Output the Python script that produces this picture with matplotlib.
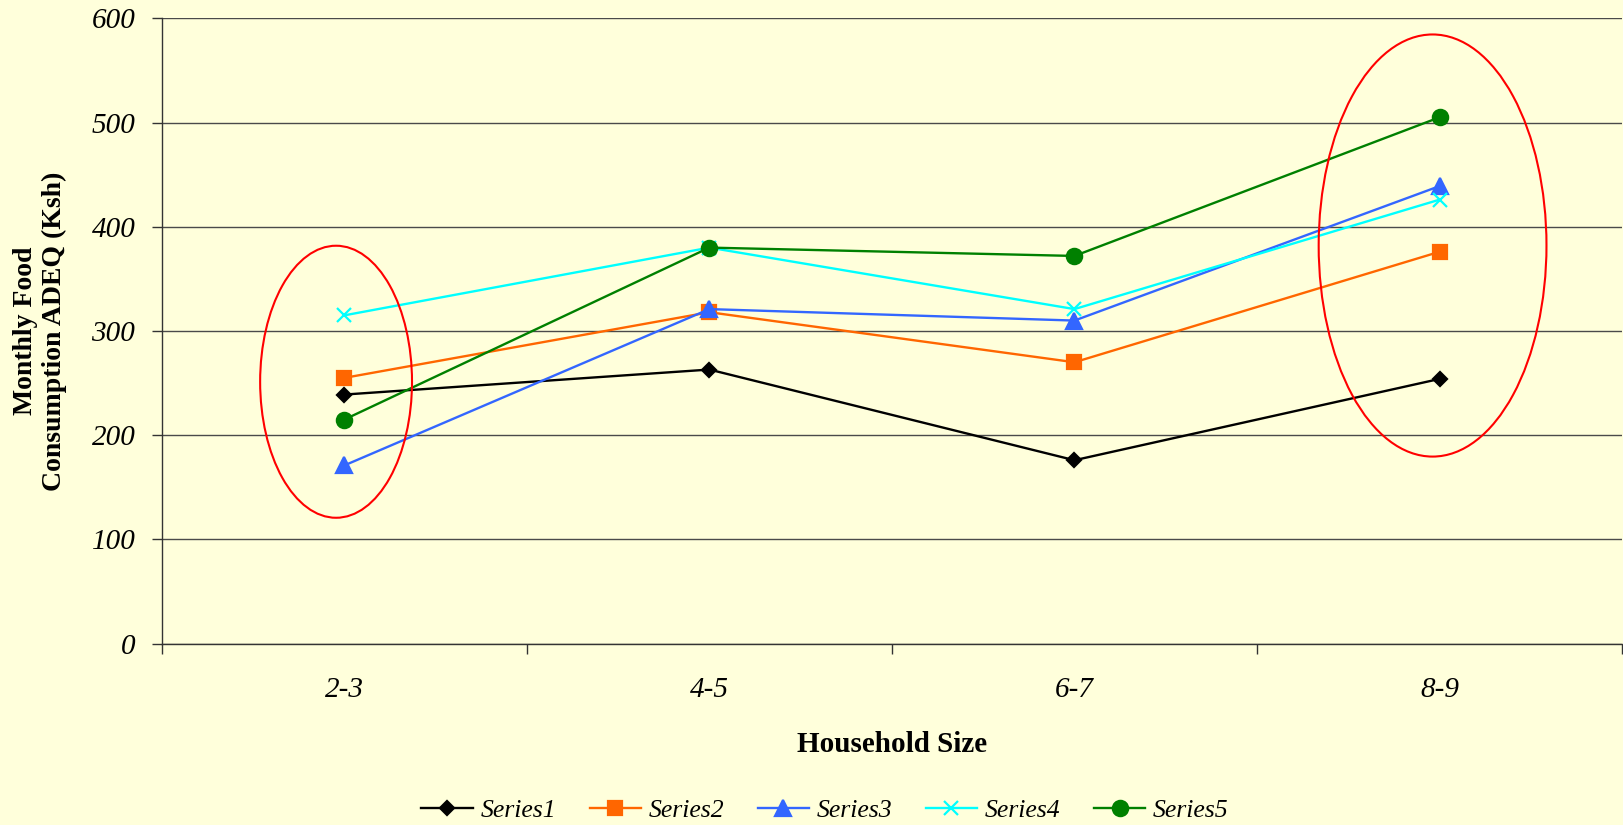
import matplotlib.pyplot as plt
import numpy as np
from matplotlib.patches import Ellipse

categories = ['2-3', '4-5', '6-7', '8-9']
series1 = [239, 263, 176, 254]
series2 = [255, 318, 270, 376]
series3 = [171, 321, 310, 439]
series4 = [315, 380, 321, 426]
series5 = [215, 380, 372, 505]
y_ticks = [0, 100, 200, 300, 400, 500, 600]

bg = '#FFFFDB'
serif = 'Liberation Serif'

fig = plt.figure(figsize=(16.24, 8.25), dpi=100, facecolor=bg)
ax = fig.add_axes([0.0996, 0.2198, 0.8992, 0.758], facecolor=bg)

x = np.arange(len(categories))
styles = [
    (series1, 'Series1', '#000000', 'D', 7),
    (series2, 'Series2', '#FF6600', 's', 10.5),
    (series3, 'Series3', '#3366FF', '^', 11),
    (series4, 'Series4', '#00FFFF', 'x', 10),
    (series5, 'Series5', '#008000', 'o', 11),
]
for vals, name, col, mk, ms in styles:
    ax.plot(x, vals, color=col, lw=1.7, marker=mk, ms=ms, mew=1.6,
            label=name, zorder=3)

# red rings around the smallest and largest households
ax.add_patch(Ellipse((-0.0225, 251.3), 0.416, 261, fill=False,
                     ec='#FF0000', lw=1.5, zorder=4))
ax.add_patch(Ellipse((2.981, 382), 0.624, 405, fill=False,
                     ec='#FF0000', lw=1.5, zorder=4))

ax.set_xlim(-0.5, 3.5)
ax.set_ylim(0, 600)
ax.set_yticks(y_ticks)
ax.yaxis.grid(True, color='#4a4a4a', lw=1)
ax.set_axisbelow(True)

# boundaries get tick marks, category names sit between them
ax.set_xticks(np.arange(-0.5, 4, 1))
ax.set_xticklabels([])
ax.set_xticks(x, minor=True)
ax.set_xticklabels(categories, minor=True)
ax.tick_params(axis='x', which='major', length=7, width=1, color='#333333')
ax.tick_params(axis='x', which='minor', length=0, pad=24)
ax.tick_params(axis='y', length=7, width=1, color='#333333', pad=12)
for lab in ax.get_xticklabels(minor=True) + ax.get_yticklabels():
    lab.set_fontfamily(serif)
    lab.set_fontstyle('italic')
    lab.set_fontsize(21)

for side in ['top', 'right']:
    ax.spines[side].set_visible(False)
for side in ['left', 'bottom']:
    ax.spines[side].set_color('#333333')
    ax.spines[side].set_linewidth(1)

ax.set_xlabel('Household Size', fontfamily=serif, fontweight='bold',
              fontsize=21, labelpad=20)
ax.set_ylabel('Monthly Food\nConsumption ADEQ (Ksh)', fontfamily=serif,
              fontweight='bold', fontsize=20, linespacing=1.2)
ax.yaxis.set_label_coords(-0.0835, 0.5)
ax.yaxis.label.set_va('center')

fig.legend(loc='center', bbox_to_anchor=(0.508, 0.017), ncol=5,
           frameon=False, handlelength=2.0, handletextpad=0.3,
           columnspacing=1.3,
           prop={'family': serif, 'style': 'italic', 'size': 18.5})

plt.savefig('out.png', dpi=100, facecolor=bg)
